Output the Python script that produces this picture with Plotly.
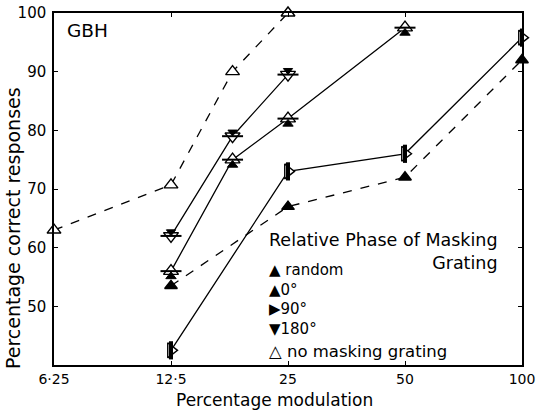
import plotly.graph_objects as go
import math

# Data (percentage modulation vs percentage correct)
x_none = [6.25, 12.5, 18, 25]
y_none = [63, 70.7, 90, 100]

x_random = [12.5, 25, 50, 100]
y_random = [53.5, 67, 72, 92]

x_0 = [12.5, 18, 25, 50]
y_0 = [56, 75, 82, 97.5]

x_90 = [12.5, 25, 50, 100]
y_90 = [42.5, 73, 76, 95.8]

x_180 = [12.5, 18, 25]
y_180 = [62, 79, 89.5]

tick_vals = [6.25, 12.5, 25, 50, 100]
tick_text = ["6·25", "12·5", "25", "50", "100"]
y_ticks = [50, 60, 70, 80, 90, 100]

FONT = "DejaVu Sans"
BLK = "black"

fig = go.Figure()

def line_trace(x, y, dash, symbol, size, fill=False):
    fig.add_trace(go.Scatter(
        x=x, y=y, mode="lines+markers", cliponaxis=False,
        line=dict(color=BLK, width=1.3, dash=dash),
        marker=dict(symbol=symbol, size=size, color=BLK if fill else "white",
                    line=dict(color=BLK, width=1.4)),
        showlegend=False))

def overlay(x, y, symbol, size, width=2):
    fig.add_trace(go.Scatter(
        x=x, y=y, mode="markers", cliponaxis=False,
        marker=dict(symbol=symbol, size=size, color=BLK,
                    line=dict(color=BLK, width=width)),
        showlegend=False))

line_trace(x_none, y_none, "dash", "triangle-up", 12)
line_trace(x_random, y_random, "dash", "triangle-up", 11, fill=True)
line_trace(x_0, y_0, "solid", "triangle-up", 13)
overlay(x_0, y_0, "line-ew", 15, 2)
overlay(x_0, [v - 0.9 for v in y_0], "triangle-up", 9, 1)
line_trace(x_90, y_90, "solid", "triangle-right", 13)
overlay(x_90, y_90, "line-ns", 13, 4)
line_trace(x_180, y_180, "solid", "triangle-down", 13)
overlay(x_180, y_180, "line-ew", 15, 2)
overlay(x_180, [v + 0.7 for v in y_180], "triangle-down", 8, 1)

def note(x, y, text, size, xanchor="left", **kw):
    return dict(x=x, y=y, xref="paper", yref="paper", text=text, showarrow=False,
                xanchor=xanchor, yanchor="middle", font=dict(size=size), **kw)

annots = [
    note(0.0235, 0.949, "GBH", 18.5),
    note(0.455, 0.322, "Relative Phase of Masking<br>Grating", 17.5, align="right"),
    note(0.455, 0.186, "▲ random<br>▲0°<br>▶90°<br>▼180°", 15, align="left"),
    note(0.455, 0.037, "△ no masking grating", 16.5),
    note(0.472, -0.0994, "Percentage modulation", 17, xanchor="center"),
    note(-0.0876, 0.389, "Percentage correct responses", 19, xanchor="center",
         textangle=-90),
]

fig.update_layout(
    template="none",
    width=536, height=412,
    margin=dict(l=54, r=14, t=13, b=47),
    paper_bgcolor="white", plot_bgcolor="white",
    font=dict(family=FONT, color=BLK, size=14),
    annotations=annots,
    xaxis=dict(type="log", range=[math.log10(6.25), math.log10(100)],
               tickvals=tick_vals, ticktext=tick_text, automargin=False,
               showgrid=False, zeroline=False,
               showline=True, linecolor=BLK, linewidth=1.5, mirror="ticks",
               ticks="inside", ticklen=4, tickcolor=BLK, ticklabelstandoff=0,
               tickfont=dict(size=14)),
    yaxis=dict(range=[40, 100], tickvals=y_ticks, automargin=False,
               showgrid=False, zeroline=False,
               showline=True, linecolor=BLK, linewidth=1.5, mirror="ticks",
               ticks="inside", ticklen=4, tickcolor=BLK, ticklabelstandoff=3,
               tickfont=dict(size=15)),
)

fig.write_html("out.html", config={"displayModeBar": False},
               post_script="document.body.style.margin='0';document.body.style.overflow='hidden';")
